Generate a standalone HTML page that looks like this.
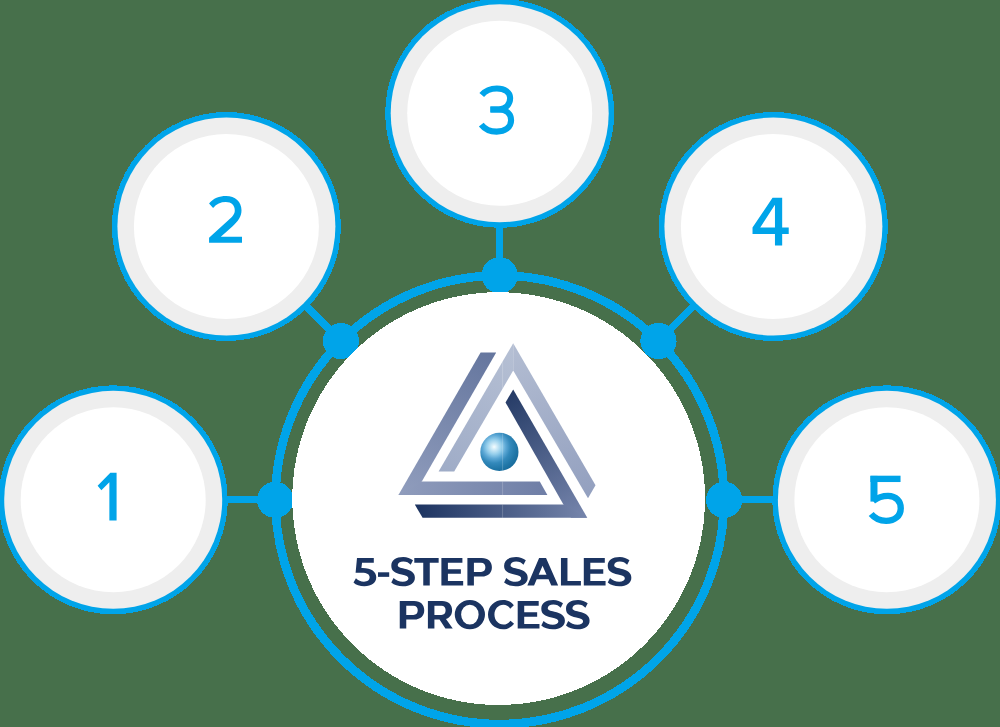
<!DOCTYPE html>
<html><head><meta charset="utf-8"><title>5-Step Sales Process</title>
<style>
html,body{margin:0;padding:0;}
body{width:1000px;height:727px;overflow:hidden;background:#47704b;position:relative;font-family:"Liberation Sans",sans-serif;}
svg{position:absolute;left:0;top:0;display:block;}
.t{position:absolute;white-space:nowrap;font-weight:bold;color:#1b3461;font-size:38.4px;line-height:1;transform-origin:0 0;}
</style></head><body>
<svg width="1000" height="727" viewBox="0 0 1000 727">
<line x1="275.20" y1="499.80" x2="225.70" y2="499.80" stroke="#00a4e9" stroke-width="7.3" shape-rendering="crispEdges"/>
<line x1="340.95" y1="341.05" x2="305.95" y2="306.05" stroke="#00a4e9" stroke-width="7.3" shape-rendering="crispEdges"/>
<line x1="499.70" y1="275.30" x2="499.70" y2="225.80" stroke="#00a4e9" stroke-width="7.3" shape-rendering="crispEdges"/>
<line x1="658.45" y1="341.05" x2="693.45" y2="306.05" stroke="#00a4e9" stroke-width="7.3" shape-rendering="crispEdges"/>
<line x1="724.20" y1="499.80" x2="773.70" y2="499.80" stroke="#00a4e9" stroke-width="7.3" shape-rendering="crispEdges"/>
<circle cx="499.7" cy="499.8" r="224.3" fill="none" stroke="#00a4e9" stroke-width="8.7" shape-rendering="crispEdges"/>
<circle cx="275.20" cy="499.80" r="18.1" fill="#00a4e9" shape-rendering="crispEdges"/>
<circle cx="340.95" cy="341.05" r="18.1" fill="#00a4e9" shape-rendering="crispEdges"/>
<circle cx="499.70" cy="275.30" r="18.1" fill="#00a4e9" shape-rendering="crispEdges"/>
<circle cx="658.45" cy="341.05" r="18.1" fill="#00a4e9" shape-rendering="crispEdges"/>
<circle cx="724.20" cy="499.80" r="18.1" fill="#00a4e9" shape-rendering="crispEdges"/>
<circle cx="498.7" cy="498.6" r="206.4" fill="#ffffff" shape-rendering="crispEdges"/>
<circle cx="113.20" cy="499.80" r="114.5" fill="#00a4e9" shape-rendering="crispEdges"/>
<circle cx="113.20" cy="499.80" r="109.0" fill="#eeeeee"/>
<circle cx="113.20" cy="499.80" r="92.5" fill="#ffffff"/>
<circle cx="226.40" cy="226.50" r="114.5" fill="#00a4e9" shape-rendering="crispEdges"/>
<circle cx="226.40" cy="226.50" r="109.0" fill="#eeeeee"/>
<circle cx="226.40" cy="226.50" r="92.5" fill="#ffffff"/>
<circle cx="499.70" cy="113.30" r="114.5" fill="#00a4e9" shape-rendering="crispEdges"/>
<circle cx="499.70" cy="113.30" r="109.0" fill="#eeeeee"/>
<circle cx="499.70" cy="113.30" r="92.5" fill="#ffffff"/>
<circle cx="773.40" cy="226.50" r="114.5" fill="#00a4e9" shape-rendering="crispEdges"/>
<circle cx="773.40" cy="226.50" r="109.0" fill="#eeeeee"/>
<circle cx="773.40" cy="226.50" r="92.5" fill="#ffffff"/>
<circle cx="886.90" cy="499.80" r="114.5" fill="#00a4e9" shape-rendering="crispEdges"/>
<circle cx="886.90" cy="499.80" r="109.0" fill="#eeeeee"/>
<circle cx="886.90" cy="499.80" r="92.5" fill="#ffffff"/>
<g transform="translate(80,460) scale(0.096283)" fill="#00a4e9" stroke="none"><path d="M315,133 L380,133 L380,628 L305,628 L305,232 L222,315 L183,268 Z"/></g>
<g transform="translate(190,185) scale(0.096283)" fill="#00a4e9" stroke="none"><path d="M198,192 C240,140 305,115 375,115 C470,115 535,175 535,262 C535,330 500,375 440,430 L320,538 L540,538 L540,600 L198,600 L198,548 L395,370 C445,325 465,300 465,265 C465,210 430,177 372,177 C318,177 275,197 240,238 Z"/></g>
<g transform="translate(462,75) scale(0.096283)" fill="#00a4e9" stroke="none"><g fill="none" stroke="#00a4e9" stroke-width="63"><path d="M205,208 C245,160 300,140 362,140 C445,140 500,180 500,240 C500,305 455,352 385,358 L295,359"/><path d="M295,359 L385,359 C465,362 510,405 510,470 C510,545 445,588 360,588 C290,588 235,560 200,515"/></g></g>
<g transform="translate(735,185) scale(0.096283)" fill="#00a4e9" stroke="none"><path fill-rule="evenodd" d="M390,133 L490,133 L490,442 L558,442 L558,508 L490,508 L490,628 L415,628 L415,508 L182,508 L182,442 Z M415,205 L415,442 L262,442 Z"/></g>
<g transform="translate(850,460) scale(0.096283)" fill="#00a4e9" stroke="none"><g fill="none" stroke="#00a4e9" stroke-width="66" stroke-linejoin="miter"><path d="M525,196 L212,196" /><path d="M249,165 L249,432" stroke-width="73"/><path d="M240,425 C290,388 340,373 395,373 C480,373 527,430 527,500 C527,580 465,632 375,632 C310,632 255,605 220,562"/></g></g>

<defs>
<linearGradient id="gL" gradientUnits="userSpaceOnUse" x1="490" y1="352" x2="410" y2="495"><stop offset="0" stop-color="#65769e"/><stop offset="1" stop-color="#8f9cbc"/></linearGradient>
<linearGradient id="gLb" gradientUnits="userSpaceOnUse" x1="400" y1="488" x2="547" y2="488"><stop offset="0" stop-color="#8f9cbc"/><stop offset="1" stop-color="#6f7ea6"/></linearGradient>
<linearGradient id="gA" gradientUnits="userSpaceOnUse" x1="440" y1="471" x2="513" y2="343"><stop offset="0" stop-color="#9facc7"/><stop offset="1" stop-color="#b6c0d4"/></linearGradient>
<linearGradient id="gAr" gradientUnits="userSpaceOnUse" x1="513" y1="343" x2="592" y2="495"><stop offset="0" stop-color="#b3bdd2"/><stop offset="1" stop-color="#93a0bf"/></linearGradient>
<linearGradient id="gD" gradientUnits="userSpaceOnUse" x1="510" y1="392" x2="580" y2="515"><stop offset="0" stop-color="#253b66"/><stop offset="1" stop-color="#7483aa"/></linearGradient>
<linearGradient id="gDb" gradientUnits="userSpaceOnUse" x1="415" y1="511" x2="587" y2="511"><stop offset="0" stop-color="#1c3360"/><stop offset="1" stop-color="#7685ab"/></linearGradient>
<radialGradient id="gS" gradientUnits="userSpaceOnUse" cx="494.2" cy="446.9" r="27" fx="494.2" fy="446.9"><stop offset="0" stop-color="#f7fdff"/><stop offset="0.07" stop-color="#dcf1fa"/><stop offset="0.28" stop-color="#93cdeb"/><stop offset="0.44" stop-color="#5aa6d4"/><stop offset="0.6" stop-color="#3389bb"/><stop offset="0.82" stop-color="#2076a7"/><stop offset="1" stop-color="#186a9a"/></radialGradient>
</defs>
<polygon points="480.6,352.4 496.2,352.4 421.8,481.5 412,495 398.4,495" fill="url(#gL)"/>
<polygon points="421.8,481.5 539.8,481.5 547.4,495 398.4,495" fill="url(#gLb)"/>
<polygon points="513.2,343.2 513.2,370.5 454.2,471.6 438.6,471.6" fill="url(#gA)"/>
<polygon points="513.2,343.2 595.5,485.2 588,498.3 513.2,370.5" fill="url(#gAr)"/>
<polygon points="513.2,389.4 587.3,517.8 571,517.8 563.4,504.6 505.5,402.4" fill="url(#gD)"/>
<polygon points="414.8,504.6 563.4,504.6 587.3,517.8 422.6,517.8" fill="url(#gDb)"/>
<circle cx="499.4" cy="451.9" r="19.1" fill="url(#gS)"/>
<g stroke="#ffffff" stroke-opacity="0.2" stroke-width="1" fill="none">
<line x1="502.6" y1="361.6" x2="502.6" y2="388.5"/><line x1="502.6" y1="433.3" x2="502.6" y2="470.5"/>
<line x1="502.6" y1="481.5" x2="502.6" y2="495"/><line x1="502.6" y1="504.6" x2="502.6" y2="517.8"/></g>

<g fill="#1b3461" stroke="none"><g transform="translate(353.5,552) scale(0.069999)"><path d="M50,85H290V152H122L113,230C250,225 325,280 325,362C325,440 260,490 155,490C90,490 35,470 0,435L35,375C65,405 105,425 150,425C200,425 230,402 230,362C230,318 195,295 120,295H30Z"/></g><g transform="translate(391.3,552) scale(0.069999)"><path d="M310,118C272,88 227,70 172,70C67,70 0,118 0,195C0,270 52,300 147,322C212,337 244,350 244,375C244,408 212,425 164,425C112,425 67,405 32,372L0,435C42,470 97,490 164,490C272,490 337,445 337,368C337,290 277,262 187,240C122,225 92,215 92,190C92,155 124,135 172,135C217,135 252,152 277,182Z"/></g><g transform="translate(414.3,552) scale(0.069999)"><path d="M0,85H348V152H221V480H128V152H0Z"/></g><g transform="translate(441.4,552) scale(0.069999)"><path d="M0,85H300V152H93V245H278V310H93V413H311V480H0Z"/></g><g transform="translate(467.4,552) scale(0.069999)"><path fill-rule="evenodd" d="M0,85H205C300,85 350,140 350,217C350,295 300,350 205,350H93V480H0Z M93,152H195C235,152 257,180 257,218C257,258 235,285 195,285H93Z"/></g><g transform="translate(504.1,552) scale(0.069999)"><path d="M310,118C272,88 227,70 172,70C67,70 0,118 0,195C0,270 52,300 147,322C212,337 244,350 244,375C244,408 212,425 164,425C112,425 67,405 32,372L0,435C42,470 97,490 164,490C272,490 337,445 337,368C337,290 277,262 187,240C122,225 92,215 92,190C92,155 124,135 172,135C217,135 252,152 277,182Z"/></g><g transform="translate(527.35,552) scale(0.069999)"><path fill-rule="evenodd" d="M0,480L168,85H267L440,480H342L303,390H134L96,480Z M217,195L162,325H274Z"/></g><g transform="translate(560.95,552) scale(0.069999)"><path d="M0,85H93V413H285V480H0Z"/></g><g transform="translate(583.8,552) scale(0.069999)"><path d="M0,85H300V152H93V245H278V310H93V413H311V480H0Z"/></g><g transform="translate(607.75,552) scale(0.069999)"><path d="M310,118C272,88 227,70 172,70C67,70 0,118 0,195C0,270 52,300 147,322C212,337 244,350 244,375C244,408 212,425 164,425C112,425 67,405 32,372L0,435C42,470 97,490 164,490C272,490 337,445 337,368C337,290 277,262 187,240C122,225 92,215 92,190C92,155 124,135 172,135C217,135 252,152 277,182Z"/></g><g transform="translate(399.75,595) scale(0.069999)"><path fill-rule="evenodd" d="M0,85H205C300,85 350,140 350,217C350,295 300,350 205,350H93V480H0Z M93,152H195C235,152 257,180 257,218C257,258 235,285 195,285H93Z"/></g><g transform="translate(427.9,595) scale(0.069999)"><path fill-rule="evenodd" d="M0,85H203C297,85 346,140 346,217C346,280 314,325 258,342L355,480H250L166,350H93V480H0Z M93,152H193C232,152 253,180 253,218C253,258 232,285 193,285H93Z"/></g><g transform="translate(454.75,595) scale(0.069999)"><path fill-rule="evenodd" d="M216,70A216,210 0 1 0 216,490A216,210 0 1 0 216,70Z M216,138A125,142 0 1 1 216,422A125,142 0 1 1 216,138Z"/></g><g transform="translate(488.0,595) scale(0.069999)"><path d="M369,148C330,98 280,70 216,70C92,70 0,160 0,280C0,400 92,490 216,490C280,490 332,462 372,412L322,368C296,402 262,422 220,422C146,422 92,362 92,280C92,198 146,138 220,138C262,138 294,158 317,195Z"/></g><g transform="translate(517.7,595) scale(0.069999)"><path d="M0,85H300V152H93V245H278V310H93V413H311V480H0Z"/></g><g transform="translate(541.3,595) scale(0.069999)"><path d="M310,118C272,88 227,70 172,70C67,70 0,118 0,195C0,270 52,300 147,322C212,337 244,350 244,375C244,408 212,425 164,425C112,425 67,405 32,372L0,435C42,470 97,490 164,490C272,490 337,445 337,368C337,290 277,262 187,240C122,225 92,215 92,190C92,155 124,135 172,135C217,135 252,152 277,182Z"/></g><g transform="translate(566.0,595) scale(0.069999)"><path d="M310,118C272,88 227,70 172,70C67,70 0,118 0,195C0,270 52,300 147,322C212,337 244,350 244,375C244,408 212,425 164,425C112,425 67,405 32,372L0,435C42,470 97,490 164,490C272,490 337,445 337,368C337,290 277,262 187,240C122,225 92,215 92,190C92,155 124,135 172,135C217,135 252,152 277,182Z"/></g><rect x="378" y="572.3" width="11.2" height="4.55"/></g>
</svg>
</body></html>
